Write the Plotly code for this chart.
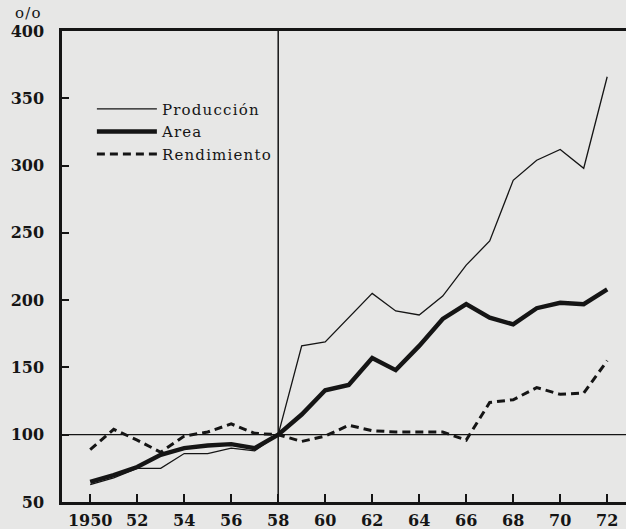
import plotly.graph_objects as go

years = list(range(1950, 1973))
produccion = [63, 68, 75, 75, 86, 86, 90, 88, 100, 166, 169, 187, 205, 192, 189, 203, 226, 244, 289, 304, 312, 298, 366]
area = [65, 70, 76, 85, 90, 92, 93, 90, 100, 115, 133, 137, 157, 148, 166, 186, 197, 187, 182, 194, 198, 197, 208]
rendimiento = [89, 104, 96, 87, 99, 102, 108, 101, 100, 95, 99, 107, 103, 102, 102, 102, 96, 124, 126, 135, 130, 131, 155]
series_names = ["Producción", "Area", "Rendimiento"]

xtick_vals = list(range(1950, 1973, 2))
xtick_text = ["1950", "52", "54", "56", "58", "60", "62", "64", "66", "68", "70", "72"]
ytick_vals = [50, 100, 150, 200, 250, 300, 350, 400]
ytick_text = ["50", "100", "150", "200", "250", "300", "350", "400"]

FONT = "DejaVu Serif"
INK = "#151515"
BG = "#e7e7e6"


def spaced(s):
    return "<span style='letter-spacing:1.2px'>" + s + "</span>"


fig = go.Figure()
fig.add_trace(go.Scatter(x=years, y=produccion, mode="lines", name=spaced(series_names[0]),
                         line=dict(color=INK, width=1.3)))
fig.add_trace(go.Scatter(x=years, y=area, mode="lines", name=spaced(series_names[1]),
                         line=dict(color=INK, width=4.4)))
fig.add_trace(go.Scatter(x=years, y=rendimiento, mode="lines", name=spaced(series_names[2]),
                         line=dict(color=INK, width=3, dash="8px,5px")))

fig.add_shape(type="line", xref="paper", yref="y", x0=0, x1=1, y0=100, y1=100,
              line=dict(color=INK, width=1.3), layer="below")
fig.add_shape(type="line", xref="x", yref="paper", x0=1958, x1=1958, y0=0, y1=1,
              line=dict(color=INK, width=1.5), layer="below")

fig.add_annotation(text=spaced("o/o"), xref="paper", yref="paper", x=-0.060, y=1.016,
                   xanchor="center", yanchor="bottom", showarrow=False, borderpad=0,
                   font=dict(family=FONT, size=15, color=INK))

fig.update_layout(
    width=626, height=529,
    margin=dict(l=62, r=0, t=31, b=27),
    paper_bgcolor=BG, plot_bgcolor=BG,
    font=dict(family=FONT, color=INK),
    showlegend=True,
    legend=dict(x=0.053, y=0.869, xanchor="left", yanchor="top",
                bgcolor="rgba(0,0,0,0)", font=dict(family=FONT, size=15, color=INK),
                itemwidth=60, tracegroupgap=0),
    xaxis=dict(range=[1948.8, 1972.8], tickvals=xtick_vals, ticktext=xtick_text,
               ticks="inside", ticklen=8, tickwidth=1.5, tickcolor=INK,
               showline=True, linewidth=2.5, linecolor=INK, mirror=True,
               showgrid=False, zeroline=False, ticklabelstandoff=2,
               tickfont=dict(family=FONT, size=16, color=INK, weight="bold")),
    yaxis=dict(range=[50, 400], tickvals=ytick_vals, ticktext=ytick_text,
               ticks="inside", ticklen=7, tickwidth=1.5, tickcolor=INK,
               showline=True, linewidth=2.5, linecolor=INK,
               showgrid=False, zeroline=False, ticklabelstandoff=12,
               tickfont=dict(family=FONT, size=16, color=INK, weight="bold")),
)

fig.write_html("out.html", config={"displayModeBar": False},
               post_script="document.body.style.margin='0';")
